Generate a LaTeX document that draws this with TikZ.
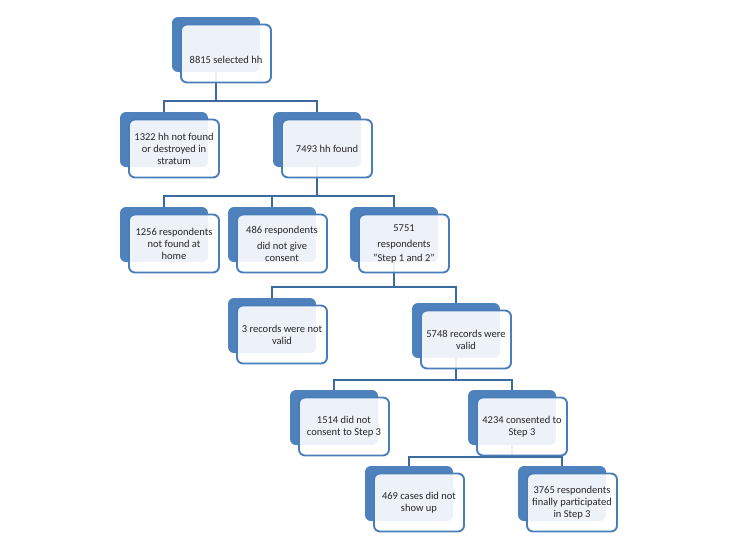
\documentclass[tikz,border=0pt]{standalone}
\usepackage{fontspec}
\setmainfont{Carlito}
\usetikzlibrary{backgrounds}
\definecolor{backblue}{HTML}{4F81BD}
\definecolor{edgeblue}{HTML}{4A7EBB}
\definecolor{connblue}{HTML}{3D6A9E}
\definecolor{txt}{HTML}{262626}
\newcommand\mybox[4]{%
  \node[backbox] (#1b) at (#2,#3) {};
  \node[frontbox] (#1) at ({#2+10},{#3+9}) {#4};
}
\begin{document}
\begin{tikzpicture}[x=1pt,y=-1pt,
  backbox/.style={draw=none, fill=backblue, rounded corners=6pt, minimum width=88pt, minimum height=55pt, inner sep=0pt},
  frontbox/.style={draw=edgeblue, line width=1.9pt, fill=white, fill opacity=0.9, text opacity=1, rounded corners=6pt, minimum width=90pt, minimum height=58pt, inner sep=2pt, align=center, font=\fontsize{10.5}{12}\selectfont, text=txt},
  conn/.style={draw=connblue, line width=2.9pt}]
\useasboundingbox (0,0) rectangle (733,542);
\mybox{a}{216}{44.5}{\raisebox{-9.5pt}[0pt][0pt]{8815 selected hh}}
\mybox{b}{164}{139.5}{1322 hh not found\\ or destroyed in\\ stratum}
\mybox{c}{317}{139.5}{7493 hh found}
\mybox{d}{164}{234.5}{1256 respondents\\ not found at\\ home}
\mybox{e}{272}{234.5}{486 respondents\\[4pt] did not give\\ consent}
\mybox{f}{394}{234.5}{5751\\[4pt] respondents\\[2pt] "Step 1 and 2"}
\mybox{g}{272}{325.5}{3 records were not\\ valid}
\mybox{h}{456}{330.5}{5748 records were\\ valid}
\mybox{i}{334}{417.5}{1514 did not\\ consent to Step 3}
\mybox{j}{512}{417.5}{4234 consented to\\ Step 3}
\mybox{k}{409}{493.5}{469 cases did not\\ show up}
\mybox{l}{562}{493.5}{3765 respondents\\ finally participated\\ in Step 3}
\begin{pgfonlayer}{background}
\coordinate (y1) at (0,101);
\coordinate (y2) at (0,196);
\coordinate (y3) at (0,287);
\coordinate (y4) at (0,380);
\coordinate (y5) at (0,457);
\draw[conn] (ab.center) -- (ab.center |- y1) -| (bb.center);
\draw[conn] (ab.center |- y1) -| (cb.center);
\draw[conn] (cb.center) -- (cb.center |- y2) -| (db.center);
\draw[conn] (cb.center |- y2) -| (eb.center);
\draw[conn] (cb.center |- y2) -| (fb.center);
\draw[conn] (fb.center) -- (fb.center |- y3) -| (gb.center);
\draw[conn] (fb.center |- y3) -| (hb.center);
\draw[conn] (hb.center) -- (hb.center |- y4) -| (ib.center);
\draw[conn] (hb.center |- y4) -| (jb.center);
\draw[conn] (jb.center) -- (jb.center |- y5) -| (kb.center);
\draw[conn] (jb.center |- y5) -| (lb.center);
\end{pgfonlayer}
\end{tikzpicture}
\end{document}
